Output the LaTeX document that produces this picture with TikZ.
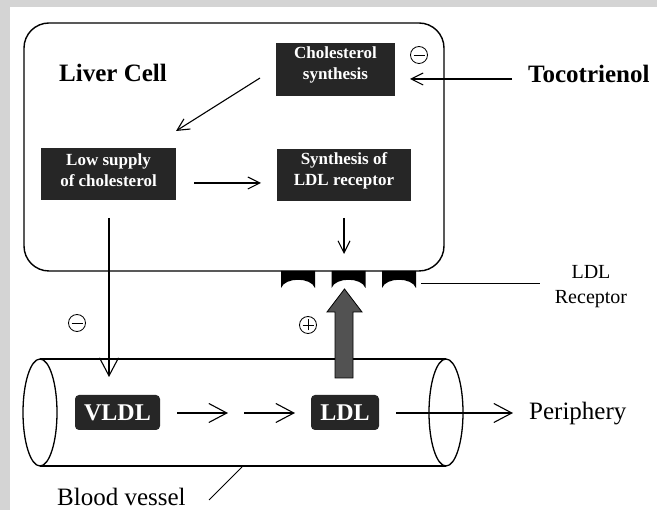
\documentclass[tikz,border=0pt]{standalone}
\usepackage{fontspec}
\setmainfont{Liberation Serif}
\usetikzlibrary{arrows.meta}
\begin{document}
\begin{tikzpicture}[x=1pt,y=-1pt,
  cellbox/.style={draw, line width=1.4pt, rounded corners=25pt, minimum width=420pt, minimum height=248pt, inner sep=0pt},
  darkbox/.style={fill=black!85, inner sep=0pt},
  boxtext/.style={text=white, font=\bfseries\fontsize{17}{21}\selectfont, align=center, inner sep=0pt},
  pill/.style={fill=black!85, rounded corners=4pt, text=white, font=\bfseries\fontsize{24}{28}\selectfont, inner sep=0pt},
  bigtext/.style={font=\bfseries\fontsize{25}{28}\selectfont, inner sep=0pt},
  plaintext/.style={font=\fontsize{25}{28}\selectfont, inner sep=0pt},
  smalltext/.style={font=\fontsize{20}{25}\selectfont, inner sep=0pt, align=center},
  arr/.style={-{Straight Barb[length=12pt,width=12pt]}, line width=1.1pt},
  arrbig/.style={-{Straight Barb[length=18pt,width=19pt]}, line width=1.1pt},
  vessel/.style={line width=1.3pt},
  sign/.style={circle, draw, line width=0.8pt, minimum size=17pt, inner sep=0pt},
  signbar/.style={line width=0.8pt},
]
\useasboundingbox (0,0) rectangle (657,510);
\fill[black!17] (0,0) rectangle (657,510);
\fill[white] (10,7) rectangle (657,510);

% liver cell
\node[cellbox] (cell) at (234,147) {};
\node[bigtext, anchor=base west] (livercell) at (59,82) {Liver Cell};

% dark boxes
\node[darkbox, minimum width=119pt, minimum height=53pt] (chol) at (335.5,69.5) {};
\node[boxtext] (cholT) at ([yshift=5pt]chol.center) {Cholesterol\\synthesis};
\node[darkbox, minimum width=135pt, minimum height=52pt] (low) at (108.5,174) {};
\node[boxtext] (lowT) at ([yshift=4pt]low.center) {Low supply\\of cholesterol};
\node[darkbox, minimum width=134pt, minimum height=52pt] (synth) at (344,175) {};
\node[boxtext] (synthT) at ([yshift=4pt]synth.center) {Synthesis of\\LDL receptor};

% tocotrienol
\node[bigtext, anchor=base west] (toco) at (528,83) {Tocotrienol};
\coordinate (tocoEnd) at (410,79);
\draw[arr] (toco.west |- tocoEnd) ++(-16,0) -- (tocoEnd);
\node[sign] (minusTop) at (419,55) {};
\draw[signbar] ([xshift=-5.5pt]minusTop.center) -- ([xshift=5.5pt]minusTop.center);

% arrows inside the cell
\coordinate (diagStart) at (260,78);
\coordinate (diagEnd) at (176,131);
\draw[arr] (diagStart) -- (diagEnd);
\coordinate (hStart) at (194,183);
\coordinate (hEnd) at (261,183);
\draw[arr] (hStart) -- (hEnd);
\coordinate (dStart) at (344,218);
\coordinate (dEnd) at (344,254);
\draw[arr] (dStart) -- (dEnd);

% LDL receptors
\foreach \cx/\nm in {298/recA,348.5/recB,399/recC}{
  \fill (\cx-17,271) -- (\cx+17,271) -- (\cx+17,288)
    .. controls (\cx+13,277) and (\cx-13,277) .. (\cx-17,288) -- cycle;
  \coordinate (\nm) at (\cx,280);
}
\coordinate (recLineStart) at (421,284);
\node[smalltext] (ldlrec) at (591,287) {LDL\\Receptor};
\draw[line width=1pt] (recLineStart) -- (540,284);

% signs between cell and vessel
\node[sign] (minusLeft) at (77,323) {};
\draw[signbar] ([xshift=-5.5pt]minusLeft.center) -- ([xshift=5.5pt]minusLeft.center);
\node[sign] (plusMid) at (308,325) {};
\draw[signbar] ([xshift=-5.5pt]plusMid.center) -- ([xshift=5.5pt]plusMid.center);
\draw[signbar] ([yshift=-5.5pt]plusMid.center) -- ([yshift=5.5pt]plusMid.center);

% blood vessel
\draw[vessel] (40,359) -- (446,359);
\draw[vessel] (40,466) -- (446,466);
\draw[vessel] (40,412.5) ellipse [x radius=17, y radius=53.5];
\draw[vessel] (446,412.5) ellipse [x radius=17, y radius=53.5];

% low supply down to vessel
\coordinate (lowDown) at (109,218);
\coordinate (vesselTop) at (109,377);
\draw[arrbig] (lowDown) -- (vesselTop);

% big grey arrow
\draw[fill=black!68, line width=0.8pt] (335,378) -- (335,312) -- (327,312) -- (344.5,289)
  -- (362,312) -- (353,312) -- (353,378) -- cycle;

% VLDL, LDL
\node[pill, minimum width=85pt, minimum height=35pt] (vldl) at (117.5,412.5) {VLDL};
\node[pill, minimum width=68pt, minimum height=35pt] (ldl) at (345,412.5) {LDL};
\coordinate (a1s) at (177,413);
\coordinate (a1e) at (228,413);
\coordinate (a2s) at (244,413);
\coordinate (a2e) at (295,413);
\draw[arrbig] (a1s) -- (a1e);
\draw[arrbig] (a2s) -- (a2e);
\node[plaintext, anchor=base west] (periph) at (529,420) {Periphery};
\coordinate (a3s) at (396,413);
\coordinate (a3e) at (513,413);
\draw[arrbig] (a3s) -- (a3e);

% blood vessel label
\node[plaintext, anchor=base west] (bv) at (57,506) {Blood vessel};
\coordinate (bvPtr) at (242,467);
\coordinate (bvEnd) at (209,500);
\draw[line width=0.9pt] (bvPtr) -- (bvEnd);
\end{tikzpicture}
\end{document}
